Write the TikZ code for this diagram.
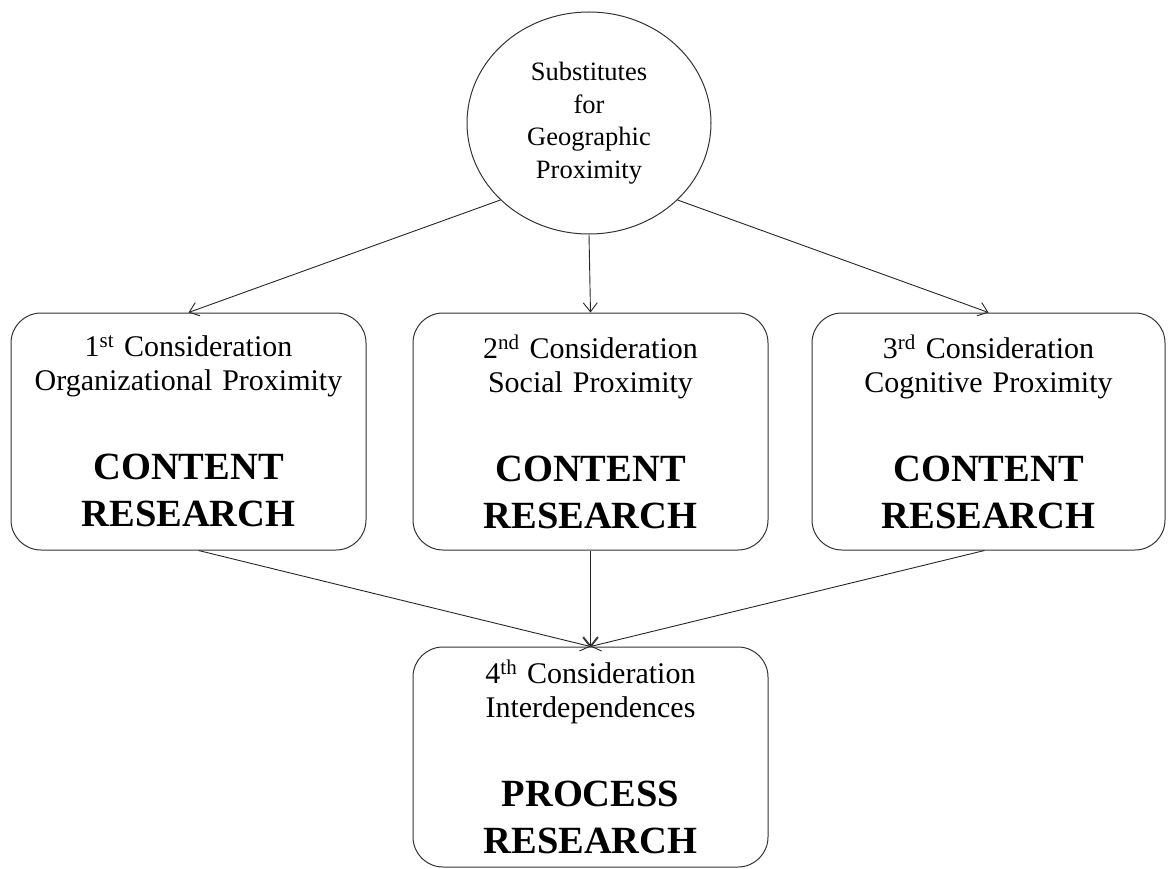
\documentclass[tikz,border=0pt]{standalone}
\usepackage{fontspec}
\setmainfont{Liberation Serif}
\usetikzlibrary{shapes.geometric,arrows.meta}
\newcommand{\consline}{\fontsize{30}{34}\selectfont\spaceskip=0.33em}
\newcommand{\bigline}{\fontsize{38.5}{47}\selectfont\bfseries}

\begin{document}
\begin{tikzpicture}[x=1pt, y=-1pt, >={Straight Barb[length=9pt,width=14pt]},
  consbox/.style={draw=black!80, line width=1pt, rounded corners=30pt,
    minimum width=355pt, minimum height=237pt, text width=340pt,
    align=center, inner sep=0pt},
  link/.style={->, line width=0.9pt, draw=black!85}]
\useasboundingbox (0,0) rectangle (1168,869);
\node[ellipse, draw=black!80, line width=1pt, minimum width=244pt,
  minimum height=222pt, inner sep=0pt, align=center,
  font=\fontsize{26.5}{32.5}\selectfont] (geo) at (589,123)
  {Substitutes\\for\\Geographic\\Proximity};
\node[consbox] (c1) at (188.5,431.5)
  {{\consline 1\textsuperscript{st} Consideration\\Organizational Proximity\par}
   \vspace{42pt}{\bigline CONTENT\\RESEARCH\par}};
\node[consbox] (c2) at (590.5,431.5)
  {{\consline 2\textsuperscript{nd} Consideration\\Social Proximity\par}
   \vspace{42pt}{\bigline CONTENT\\RESEARCH\par}};
\node[consbox, minimum width=353pt] (c3) at (988.5,431.5)
  {{\consline 3\textsuperscript{rd} Consideration\\Cognitive Proximity\par}
   \vspace{42pt}{\bigline CONTENT\\RESEARCH\par}};
\node[consbox, minimum height=220pt] (c4) at (590.5,757)
  {{\consline 4\textsuperscript{th} Consideration\\Interdependences\par}
   \vspace{42pt}{\bigline PROCESS\\RESEARCH\par}};
% arrows
\draw[link] (geo.221) -- (c1.north);
\draw[link] (geo.south) -- (c2.north);
\draw[link] (geo.319) -- (c3.north);
\draw[link] ([xshift=10pt]c1.south) -- (c4.north);
\draw[link] (c2.south) -- (c4.north);
\draw[link] ([xshift=-4pt]c3.south) -- (c4.north);
\end{tikzpicture}
\end{document}
